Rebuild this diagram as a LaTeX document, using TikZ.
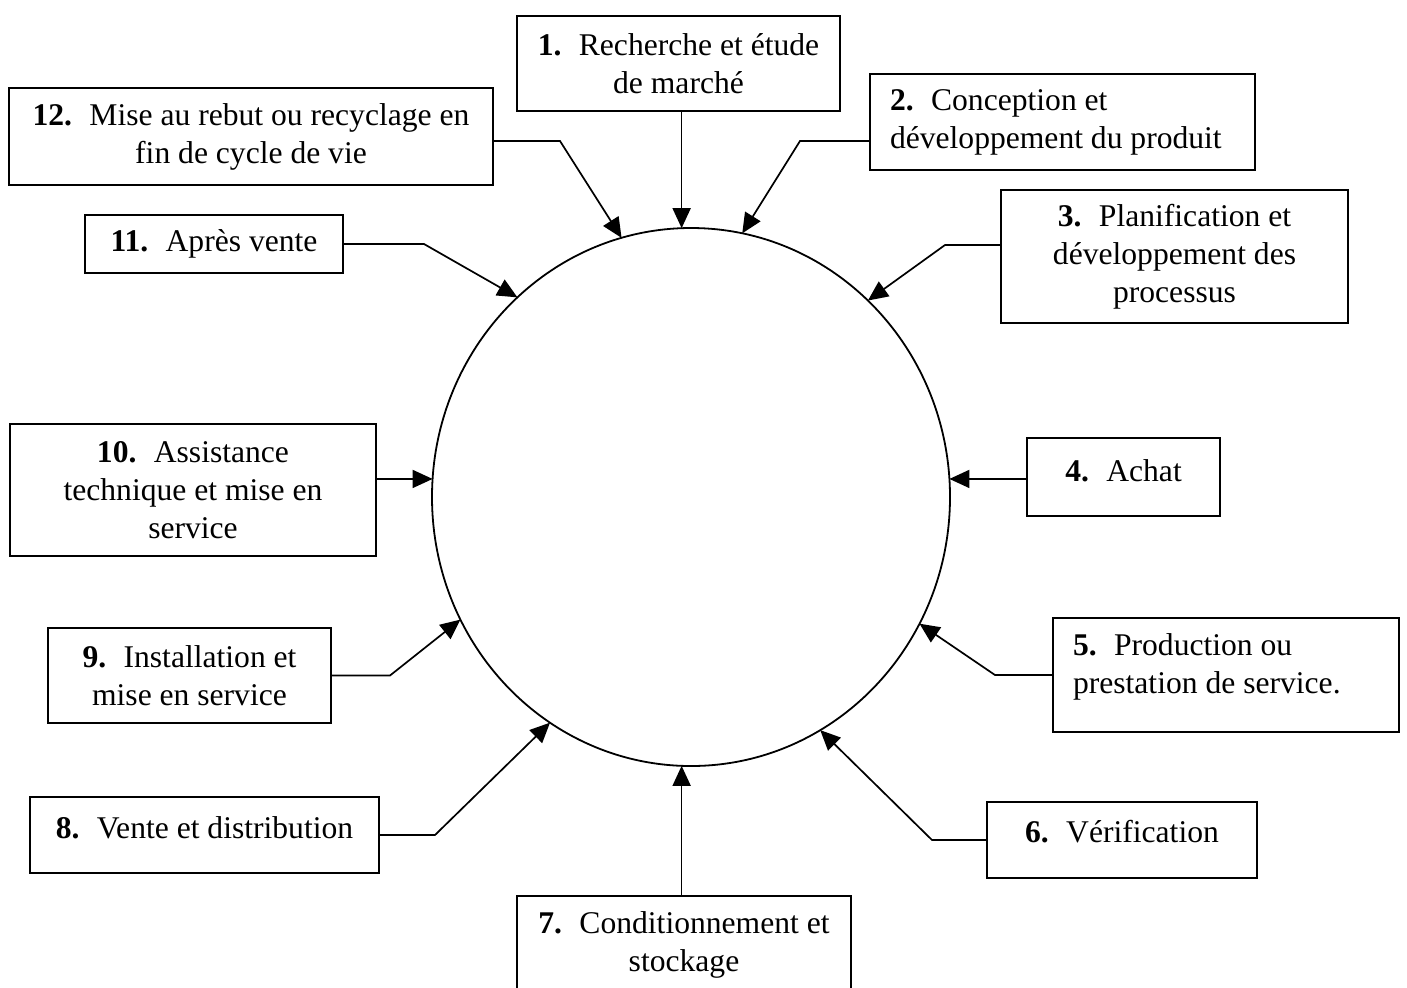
\documentclass[tikz,border=0pt]{standalone}
\usepackage{fontspec}
\setmainfont{Liberation Serif}
\usetikzlibrary{arrows.meta,shapes.geometric}
% bold step number followed by a gap
\newcommand\stepnum[1]{\textbf{#1}\hspace{0.55em}}
% shift the text up without changing the size of its box
\newcommand\liftup[2]{\raisebox{#1}[\height][\depth]{#2}}
% left-aligned block of lines set in a box of fixed width
\newcommand\leftblock[2]{\makebox[#1][l]{\begin{tabular}{@{}l@{}}#2\end{tabular}}}
\begin{document}
\begin{tikzpicture}[x=0.5pt,y=-0.5pt,
  box/.style={draw, line width=0.9pt, inner sep=0pt, outer sep=0pt, align=center,
    font=\fontsize{15.8}{19}\selectfont},
  lbox/.style={box, inner xsep=10pt},
  arr/.style={line width=0.85pt, -{Triangle[length=10pt,width=9pt]}},
  ring/.style={draw, line width=0.9pt, ellipse, inner sep=0pt, outer sep=0pt}]
\useasboundingbox (0,0) rectangle (1407,987);

% central cycle
\node[ring, minimum width=259pt, minimum height=269pt] (cycle) at (691,497) {};

% the twelve stages
\node[box, minimum width=161.5pt, minimum height=47.5pt] (n1) at (678.5,63.5)
  {\stepnum{1.}Recherche et étude\\de marché};
\node[lbox, minimum height=48pt] (n2) at (1062.5,122)
  {\leftblock{172.5pt}{\stepnum{2.}Conception et\\développement du produit}};
\node[box, minimum width=173.5pt, minimum height=66.5pt] (n3) at (1174.5,256.5)
  {\stepnum{3.}Planification et\\développement des\\processus};
\node[box, minimum width=96.5pt, minimum height=39pt] (n4) at (1123.5,477)
  {\liftup{3pt}{\stepnum{4.}Achat}};
\node[lbox, minimum height=57pt] (n5) at (1226,675)
  {\liftup{4pt}{\leftblock{153pt}{\stepnum{5.}Production ou\\prestation de service.}}};
\node[box, minimum width=135pt, minimum height=38pt] (n6) at (1122,840)
  {\liftup{4pt}{\stepnum{6.}Vérification}};
\node[box, minimum width=167pt, minimum height=49pt] (n7) at (684,945)
  {\stepnum{7.}Conditionnement et\\stockage};
\node[box, minimum width=174.5pt, minimum height=38pt] (n8) at (204.5,835)
  {\liftup{3.5pt}{\stepnum{8.}Vente et distribution}};
\node[box, minimum width=141.5pt, minimum height=47.5pt] (n9) at (189.5,675.5)
  {\stepnum{9.}Installation et\\mise en service};
\node[box, minimum width=183pt, minimum height=66pt] (n10) at (193,490)
  {\stepnum{10.}Assistance\\technique et mise en\\service};
\node[box, minimum width=129pt, minimum height=29pt] (n11) at (214,244)
  {\stepnum{11.}Après vente};
\node[box, minimum width=242pt, minimum height=48.5pt] (n12) at (251,136.5)
  {\stepnum{12.}Mise au rebut ou recyclage en\\fin de cycle de vie};

% connectors into the cycle
\draw[arr] (cycle.92 |- n1.south) -- (cycle.92);
\draw[arr] ([yshift=-9.5pt]n2.west) -- ++(-70,0) -- (cycle.79);
\draw[arr] ([yshift=5.75pt]n3.west) -- ++(-56,0) -- (cycle.48);
\draw[arr] (n4.west |- cycle.4) -- (cycle.4);
\draw[arr] (n5.west) -- ++(-58,0) -- (cycle.331);
\draw[arr] (n6.west) -- ++(-55,0) -- (cycle.299);
\draw[arr] (cycle.268 |- n7.north) -- (cycle.268);
\draw[arr] (n8.east) -- ++(56,0) -- (cycle.238);
\draw[arr] (n9.east) -- ++(59,0) -- (cycle.208);
\draw[arr] (n10.east |- cycle.176) -- (cycle.176);
\draw[arr] (n11.east) -- ++(81,0) -- (cycle.131);
\draw[arr] ([yshift=-2.25pt]n12.east) -- ++(67,0) -- (cycle.105);
\end{tikzpicture}
\end{document}
